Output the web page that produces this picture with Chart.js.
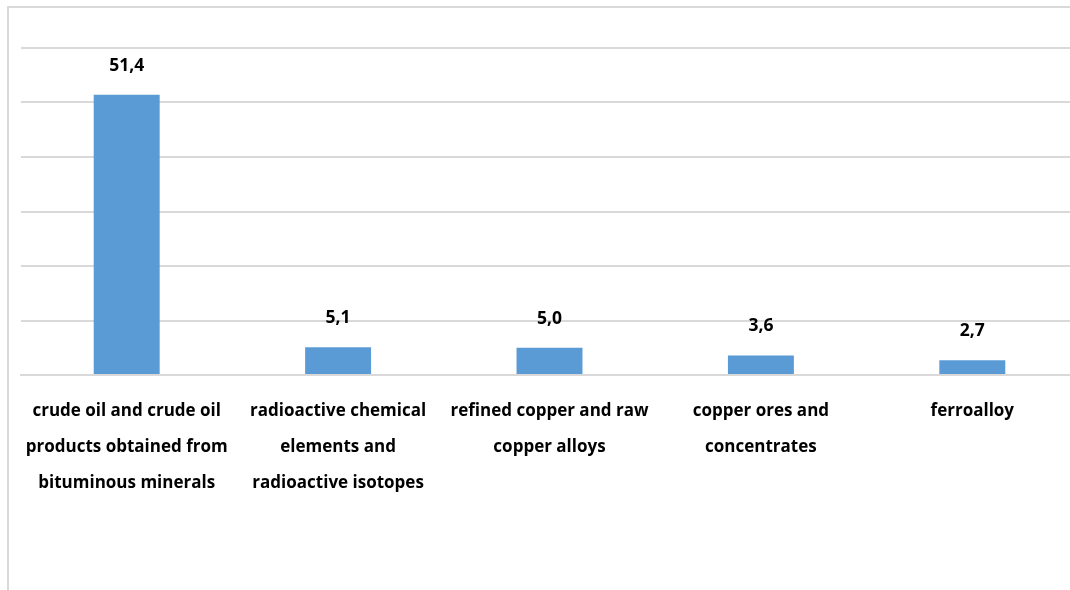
<!DOCTYPE html>
<html><head><meta charset="utf-8">
<script src="https://cdn.jsdelivr.net/npm/chart.js@4"></script>
<style>
html,body{margin:0;padding:0;width:1070px;height:590px;overflow:hidden;background:#fff;}
#frame{position:absolute;left:7px;top:6px;width:1200px;height:700px;border:2px solid #d9d9d9;box-sizing:border-box;}
#wrap{position:absolute;left:0;top:0;width:1090px;height:590px;}
</style></head><body>
<div id="frame"></div>
<div id="wrap"><canvas id="c"></canvas></div>
<script>
const categories = [
  ["crude oil and crude oil","products obtained from","bituminous minerals"],
  ["radioactive chemical","elements and","radioactive isotopes"],
  ["refined copper and raw","copper alloys"],
  ["copper ores and","concentrates"],
  ["ferroalloy"]
];
const values = [51.4, 5.1, 5.0, 3.6, 2.7];
const yMax = 60;
const yStep = 10;

const FONT = "'Open Sans', sans-serif";
const labelPlugin = {
  id:'vlabels',
  afterDatasetsDraw(chart){
    const ctx = chart.ctx;
    const meta = chart.getDatasetMeta(0);
    ctx.save();
    ctx.font = "bold 17.5px " + FONT;
    ctx.fillStyle = "#000";
    ctx.textAlign = "center";
    ctx.textBaseline = "middle";
    meta.data.forEach((bar,i)=>{
      ctx.fillText(values[i].toFixed(1).replace('.',','), bar.x, bar.y - 29);
    });
    ctx.restore();
  }
};

new Chart(document.getElementById('c'),{
  type:'bar',
  data:{labels:categories,datasets:[{data:values,backgroundColor:'#5b9bd5',categoryPercentage:1,barPercentage:0.312}]},
  options:{
    responsive:true,maintainAspectRatio:false,animation:false,devicePixelRatio:1,
    layout:{padding:{left:21,right:12,top:48,bottom:71}},
    plugins:{legend:{display:false},tooltip:{enabled:false}},
    scales:{
      x:{grid:{display:false,drawTicks:false},border:{display:true,color:'#d9d9d9',width:2},
         ticks:{color:'#000',padding:18,maxRotation:0,autoSkip:false,font:{family:FONT,size:17,weight:'bold',lineHeight:'36px'}}},
      y:{min:0,max:yMax,ticks:{display:false,stepSize:yStep},border:{display:false},
         grid:{color:'#d9d9d9',lineWidth:2,drawTicks:false}}
    }
  },
  plugins:[labelPlugin]
});
</script>
</body></html>
